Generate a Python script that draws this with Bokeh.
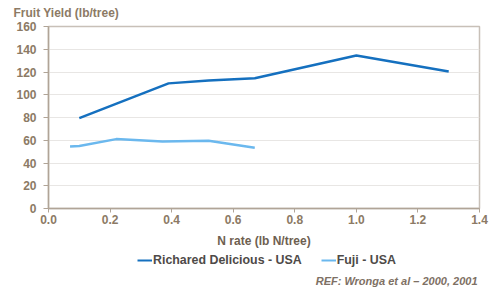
from bokeh.plotting import figure
from bokeh.layouts import column
from bokeh.models import Label, Legend, LegendItem, FixedTicker, NumeralTickFormatter, Range1d
from bokeh.embed import file_html
from bokeh.resources import INLINE

# Data
rd_x = [0.10, 0.39, 0.52, 0.67, 1.00, 1.30]
rd_y = [79.5, 110, 112.5, 114.5, 134.5, 120.5]
fuji_x = [0.07, 0.10, 0.22, 0.37, 0.52, 0.67]
fuji_y = [54.5, 55.0, 61.0, 59.0, 59.5, 53.5]
x_ticks = [0.0, 0.2, 0.4, 0.6, 0.8, 1.0, 1.2, 1.4]
y_ticks = [0, 20, 40, 60, 80, 100, 120, 140, 160]
series_names = ["Richared Delicious - USA", "Fuji - USA"]
series_colors = ["#1570BF", "#6BB8EE"]

TXT = "#8C7A65"
FONT = "Liberation Sans"
FS = "12px"
W = 495


def blank(h):
    f = figure(width=W, height=h, output_backend="svg", toolbar_location=None,
               x_axis_location=None, y_axis_location=None,
               x_range=Range1d(0, W), y_range=Range1d(0, h),
               min_border_left=0, min_border_right=0, min_border_top=0, min_border_bottom=0,
               frame_align=False)
    f.outline_line_color = None
    f.xgrid.visible = False
    f.ygrid.visible = False
    return f


# --- top strip with the y-axis title
top = blank(20)
top.add_layout(Label(x=13, y=8, text="Fruit Yield (lb/tree)", text_font=FONT,
                     text_font_style="bold", text_font_size=FS, text_color=TXT,
                     text_baseline="middle"))

# --- main chart
p = figure(width=W, height=230, output_backend="svg", toolbar_location=None,
           x_range=Range1d(0, 1.4), y_range=Range1d(0, 160),
           min_border_left=48, min_border_top=6, min_border_right=16, min_border_bottom=41,
           frame_align=False)
p.outline_line_color = "#C8C0B8"
p.outline_line_width = 1.5
p.xgrid.grid_line_color = None
p.ygrid.grid_line_color = "#E8E6E4"
for ax in (p.xaxis[0], p.yaxis[0]):
    ax.axis_line_color = "#B0A497"
    ax.axis_line_width = 1.5
    ax.major_tick_line_color = "#B0A497"
    ax.minor_tick_line_color = None
    ax.major_tick_in = 0
    ax.major_tick_out = 4
    ax.major_label_text_font = FONT
    ax.major_label_text_font_style = "bold"
    ax.major_label_text_font_size = FS
    ax.major_label_text_color = TXT
p.yaxis.major_tick_out = 5
p.xaxis.ticker = FixedTicker(ticks=x_ticks)
p.xaxis.formatter = NumeralTickFormatter(format="0.0")
p.yaxis.ticker = FixedTicker(ticks=y_ticks)
p.xaxis.major_label_standoff = 2
p.yaxis.major_label_standoff = 7
p.xaxis.axis_label = "N rate (lb N/tree)"
p.xaxis.axis_label_text_font = FONT
p.xaxis.axis_label_text_font_style = "bold"
p.xaxis.axis_label_text_font_size = FS
p.xaxis.axis_label_text_color = "#6E6050"
p.xaxis.axis_label_standoff = 7
p.line(rd_x, rd_y, line_color=series_colors[0], line_width=2.5)
p.line(fuji_x, fuji_y, line_color=series_colors[1], line_width=2.5)

# --- bottom strip with legend and reference (legend lines lie outside this strip's view)
bot = blank(39)
lr = [bot.line(x=xs, y=ys, line_color=c, line_width=2)
      for xs, ys, c in zip([rd_x, fuji_x], [rd_y, fuji_y], series_colors)]
legend = Legend(items=[LegendItem(label=n, renderers=[r]) for n, r in zip(series_names, lr)],
                orientation="horizontal", location=(137, 22),
                label_text_font=FONT, label_text_font_style="bold",
                label_text_font_size="12.4px", label_text_color="#4E4A48",
                border_line_color=None, background_fill_alpha=0,
                glyph_width=15, glyph_height=12, spacing=19, padding=0, margin=0,
                label_standoff=1, label_height=12)
bot.add_layout(legend, "center")
bot.add_layout(Label(x=477, y=9, text="REF: Wronga et al \u2013 2000, 2001", text_align="right",
                     text_font=FONT, text_font_style="bold italic", text_font_size="11px",
                     text_color="#7E7064", text_baseline="middle"))

layout = column(top, p, bot, spacing=0)
open("out.html", "w").write(file_html(layout, INLINE))
